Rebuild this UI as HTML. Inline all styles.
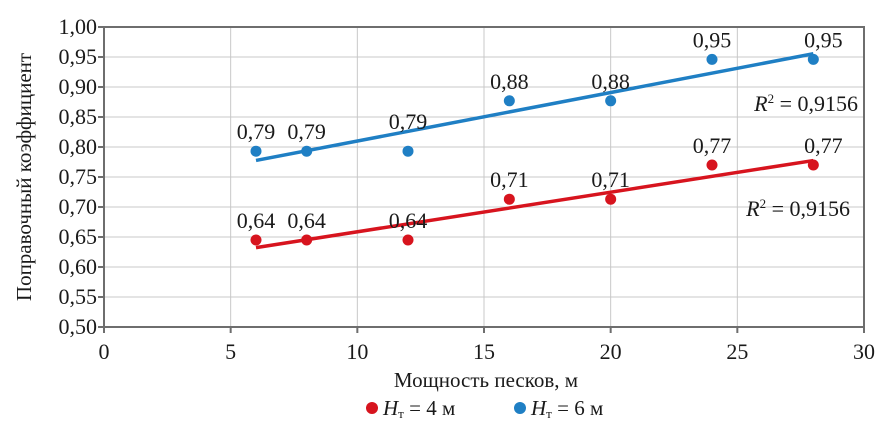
<!DOCTYPE html>
<html><head><meta charset="utf-8"><style>
body{margin:0;background:#fff;}
svg{display:block;font-family:"Liberation Serif","DejaVu Serif",serif;}
</style></head><body>
<svg id="c" width="884" height="425" xmlns="http://www.w3.org/2000/svg"></svg>
<script>
const xs=[6,8,12,16,20,24,28];
const blueVals=[0.793,0.793,0.793,0.877,0.877,0.946,0.946];
const redVals=[0.645,0.645,0.645,0.713,0.713,0.77,0.77];
const blueLabels=["0,79","0,79","0,79","0,88","0,88","0,95","0,95"];
const redLabels=["0,64","0,64","0,64","0,71","0,71","0,77","0,77"];
const xTicks=[0,5,10,15,20,25,30];
const yTicks=[0.5,0.55,0.6,0.65,0.7,0.75,0.8,0.85,0.9,0.95,1.0];
const L=104,R=864,T=27,B=327;
const sx=v=>L+(v-0)/30*(R-L);
const sy=v=>B-(v-0.5)/0.5*(B-T);
const svg=document.getElementById('c');
const NS='http://www.w3.org/2000/svg';
function mk(tag,attrs,parent){const e=document.createElementNS(NS,tag);for(const k in attrs)e.setAttribute(k,attrs[k]);(parent||svg).appendChild(e);return e;}
xTicks.forEach(t=>{if(t>0&&t<30){const g=mk('line',{x1:sx(t),x2:sx(t),y1:T,y2:B,stroke:'#c8c8c8','stroke-width':1});

}});
yTicks.forEach(t=>{if(t>0.5&&t<1){const g=mk('line',{x1:L,x2:R,y1:sy(t),y2:sy(t),stroke:'#c8c8c8','stroke-width':1});

}});
const fr=mk('rect',{x:L,y:T,width:R-L,height:B-T,fill:'none',stroke:'#6e6e6e','stroke-width':2});


yTicks.forEach(t=>{const tk=mk('line',{x1:L-6,x2:L,y1:sy(t),y2:sy(t),stroke:'#6e6e6e','stroke-width':2});


const tx=mk('text',{x:L-7,y:sy(t)+7,'text-anchor':'end','font-size':22,fill:'#1a1a1a'});
tx.textContent=t.toFixed(2).replace('.',',');

});
xTicks.forEach(t=>{const tk=mk('line',{x1:sx(t),x2:sx(t),y1:B,y2:B+6,stroke:'#6e6e6e','stroke-width':2});


const tx=mk('text',{x:sx(t),y:B+32,'text-anchor':'middle','font-size':22,fill:'#1a1a1a'});
tx.textContent=String(t);

});
function fit(v){const n=xs.length;const mx=xs.reduce((a,b)=>a+b)/n,my=v.reduce((a,b)=>a+b)/n;let sxy=0,sxx=0;xs.forEach((x,i)=>{sxy+=(x-mx)*(v[i]-my);sxx+=(x-mx)*(x-mx);});const m=sxy/sxx;return x=>my+m*(x-mx);}
function series(vals,labels,color,name,raise){
const f=fit(vals);
const tl=mk('line',{x1:sx(xs[0]),y1:sy(f(xs[0])),x2:sx(xs[xs.length-1]),y2:sy(f(xs[xs.length-1])),stroke:color,'stroke-width':3.5});


vals.forEach((v,i)=>{const c=mk('circle',{cx:sx(xs[i]),cy:sy(v),r:5.5,fill:color});


const extra=(xs[i]===12?raise:0);
const t=mk('text',{x:sx(xs[i])+(i===xs.length-1?10:0),y:sy(v)-12-extra,'text-anchor':'middle','font-size':22,fill:'#1a1a1a'});
t.textContent=labels[i];

});}
series(blueVals,blueLabels,'#1f7fc4','blue-series',10);
series(redVals,redLabels,'#d7141e','red-series',0);
</script>
<svg width="884" height="425" style="position:absolute;left:0;top:0;font-family:'Liberation Serif','DejaVu Serif',serif">
<text x="858" y="111" text-anchor="end" font-size="22" fill="#1a1a1a"><tspan font-style="italic">R</tspan><tspan font-size="13" dy="-8">2</tspan><tspan dy="8"> = 0,9156</tspan></text>
<text x="850" y="216" text-anchor="end" font-size="22" fill="#1a1a1a"><tspan font-style="italic">R</tspan><tspan font-size="13" dy="-8">2</tspan><tspan dy="8"> = 0,9156</tspan></text>
<text transform="translate(31,177) rotate(-90)" text-anchor="middle" font-size="21" fill="#1a1a1a">Поправочный коэффициент</text>
<text x="486" y="387" text-anchor="middle" font-size="21" fill="#1a1a1a">Мощность песков, м</text>
<g>
<circle cx="372" cy="408" r="6" fill="#d7141e"/>
<text x="383" y="415" font-size="21" fill="#1a1a1a"><tspan font-style="italic">H</tspan><tspan font-size="13" dy="3">т</tspan><tspan dy="-3"> = 4 м</tspan></text>
</g>
<g>
<circle cx="520" cy="408" r="6" fill="#1f7fc4"/>
<text x="531" y="415" font-size="21" fill="#1a1a1a"><tspan font-style="italic">H</tspan><tspan font-size="13" dy="3">т</tspan><tspan dy="-3"> = 6 м</tspan></text>
</g>
</svg>
</body></html>
